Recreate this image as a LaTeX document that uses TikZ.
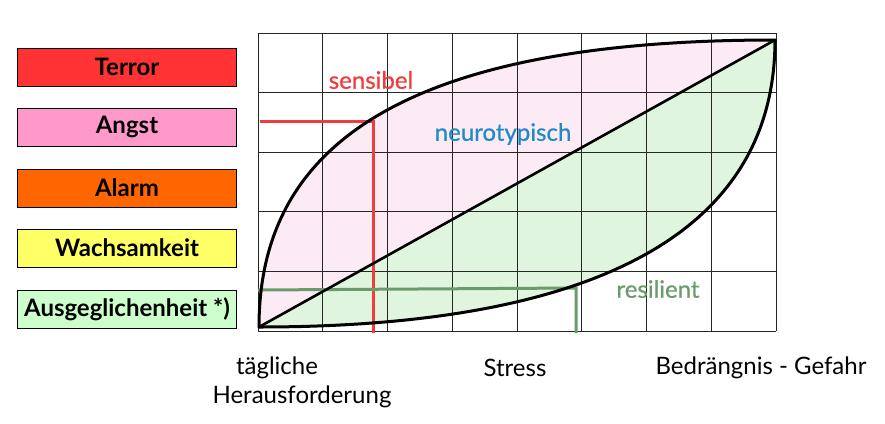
\documentclass[tikz,border=0pt]{standalone}
\usepackage{fontspec}
\setmainfont{Lato}
\newfontfamily\labelfont{Lato}[UprightFeatures={FakeBold=0.6}]
\usepackage{tikz}
\usetikzlibrary{positioning}
\definecolor{terrorred}{HTML}{FF3333}
\definecolor{angstpink}{HTML}{FF99CC}
\definecolor{alarmorange}{HTML}{FF6600}
\definecolor{wachyellow}{HTML}{FFFF66}
\definecolor{ruhegreen}{HTML}{CCFFCC}
\definecolor{sensred}{HTML}{F03C3C}
\definecolor{neuroblue}{HTML}{1E8BC8}
\definecolor{resigreen}{HTML}{6B9B6B}
\definecolor{pinkfill}{HTML}{FCEAF4}
\definecolor{greenfill}{HTML}{DFF5DD}
\begin{document}
\begin{tikzpicture}
[x=1pt,y=-1pt,
level/.style   ={rectangle, draw=black, line width=1pt, minimum width=219pt, minimum height=38pt, inner sep=0pt, font={\fontsize{24}{28}\selectfont\bfseries}},
gridline/.style={draw=black!85, line width=0.9pt},
curve/.style   ={draw=black, line width=3pt, line cap=round},
label/.style   ={font={\fontsize{24}{28}\selectfont\labelfont}},
axis/.style    ={font={\fontsize{24}{28}\selectfont}}]
    \useasboundingbox (0,0) rectangle (885,423);
    % legend
    \node[level,fill=terrorred] (terror) at (127,67) {Terror};
    \node[level,fill=angstpink] (angst) at (127,127) {Angst};
    \node[level,fill=alarmorange] (alarm) at (127,188) {Alarm};
    \node[level,fill=wachyellow] (wach) at (127,248) {Wachsamkeit};
    \node[level,fill=ruhegreen] (ruhe) at (127,309) {Ausgeglichenheit *)};
    % curve ends
    \coordinate (o) at (259,327);
    \coordinate (e) at (775,40);
    \fill[pinkfill] (o) .. controls (259,160) and (380,40) .. (e) -- cycle;
    \fill[greenfill] (o) -- (e) .. controls (775,230) and (600,327) .. (o) -- cycle;
    % grid
    \foreach \i in {0,...,8}
        \draw[gridline] (258+\i*64.75,33) -- (258+\i*64.75,331);
    \foreach \j in {0,...,5}
        \draw[gridline] (258,33+\j*59.6) -- (776,33+\j*59.6);
    % markers
    \coordinate (sens) at (373,121);
    \coordinate (resi) at (576,288);
    \draw[sensred,line width=3pt] (260,121) -- (sens) -- (373,333);
    \draw[resigreen,line width=3pt] (258,290) -- (resi) -- (576,333);
    % curves
    \draw[curve] (o) .. controls (259,160) and (380,40) .. (e);
    \draw[curve] (o) .. controls (600,327) and (775,230) .. (e);
    \draw[curve,line width=2.6pt] (o) -- (e);
    \node[label,text=sensred] (sensibel) at (371,80) {sensibel};
    \node[label,text=neuroblue] (neuro) at (503,134) {neurotypisch};
    \node[label,text=resigreen] (resilient) at (658,289) {resilient};
    % axis
    \node[axis] (taeg) at (277,368) {tägliche};
    \node[axis] (heraus) at (302,397) {Herausforderung};
    \node[axis] (stress) at (515,368) {Stress};
    \node[axis] (gefahr) at (761,368) {Bedrängnis - Gefahr};
\end{tikzpicture}
\end{document}
